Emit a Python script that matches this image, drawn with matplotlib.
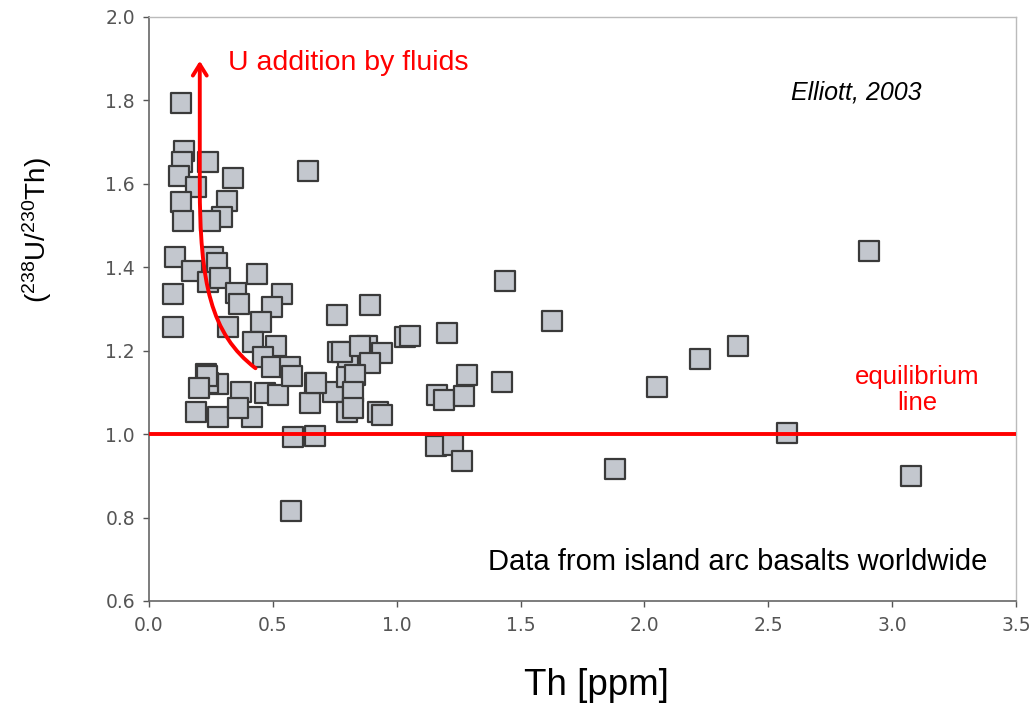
import matplotlib
matplotlib.use("Agg")
import matplotlib.pyplot as plt
from matplotlib.path import Path
from matplotlib.patches import FancyArrowPatch

th_ppm = [0.13, 0.14, 0.133, 0.24, 0.12, 0.34, 0.19, 0.315, 0.13, 0.295, 0.137, 0.246,
          0.642, 0.105, 0.26, 0.273, 0.172, 0.238, 0.286, 0.437, 0.096, 0.351, 0.365,
          0.538, 0.495, 0.758, 0.32, 0.096, 0.452, 0.421, 0.513, 0.461, 0.495, 0.569,
          0.764, 0.805, 0.23, 0.28, 0.37, 0.24, 0.468, 0.52, 0.576, 0.67, 0.65, 0.744,
          0.798, 0.798, 0.19, 0.28, 0.414, 0.36, 0.583, 0.67, 0.892, 0.778, 0.879,
          0.852, 0.939, 0.892, 1.033, 1.054, 1.202, 1.282, 1.161, 1.192, 1.272, 0.832,
          0.825, 0.825, 0.925, 0.939, 0.674, 1.424, 1.437, 1.625, 1.158, 1.227, 1.262,
          1.881, 2.051, 2.224, 2.378, 2.576, 2.905, 3.076, 0.573, 0.235, 0.2]
u_th = [1.794, 1.679, 1.652, 1.652, 1.619, 1.614, 1.593, 1.559, 1.556, 1.521, 1.511, 1.511,
        1.631, 1.424, 1.425, 1.411, 1.392, 1.365, 1.374, 1.384, 1.336, 1.339, 1.312,
        1.337, 1.305, 1.285, 1.256, 1.256, 1.270, 1.222, 1.211, 1.186, 1.162, 1.162,
        1.198, 1.170, 1.144, 1.120, 1.102, 1.122, 1.098, 1.094, 1.139, 1.122, 1.074, 1.102,
        1.138, 1.054, 1.054, 1.042, 1.042, 1.062, 0.993, 0.996, 1.309, 1.198, 1.211,
        1.211, 1.195, 1.170, 1.233, 1.235, 1.243, 1.142, 1.094, 1.083, 1.091, 1.142,
        1.102, 1.062, 1.054, 1.046, 1.122, 1.126, 1.368, 1.272, 0.971, 0.974, 0.936,
        0.917, 1.113, 1.180, 1.211, 1.003, 1.439, 0.899, 0.816, 1.140, 1.110]

x_ticks = [0.0, 0.5, 1.0, 1.5, 2.0, 2.5, 3.0, 3.5]
y_ticks = [0.6, 0.8, 1.0, 1.2, 1.4, 1.6, 1.8, 2.0]
equilibrium = 1.0

plt.rcParams['mathtext.fontset'] = 'custom'
plt.rcParams['mathtext.rm'] = 'Liberation Sans'
plt.rcParams['mathtext.it'] = 'Liberation Sans:italic'

fig = plt.figure(figsize=(10.36, 7.05), dpi=100)
ax = fig.add_axes([149/1036, 1 - 601/705, (1016-149)/1036, (601-17)/705])

ax.scatter(th_ppm, u_th, marker='s', s=15**2, facecolor='#c3c7ce',
           edgecolor='#3a3a3a', linewidths=1.6, zorder=3)

ax.axhline(equilibrium, color='#ff0000', lw=2.8, zorder=4)

ax.set_xlim(0, 3.5)
ax.set_ylim(0.6, 2.0)
ax.set_xticks(x_ticks)
ax.set_yticks(y_ticks)
ax.set_xticklabels([f"{v:.1f}" for v in x_ticks])
ax.set_yticklabels([f"{v:.1f}" for v in y_ticks])
ax.tick_params(axis='both', labelsize=13.5, colors='#555555', length=4, width=1)
ax.tick_params(axis='x', pad=7)
ax.tick_params(axis='y', pad=6)
for s in ['left', 'bottom']:
    ax.spines[s].set_color('#666666')
    ax.spines[s].set_linewidth(1.2)
for s in ['top', 'right']:
    ax.spines[s].set_color('#bbbbbb')
    ax.spines[s].set_linewidth(1.0)

ax.set_xlabel("Th [ppm]", fontsize=26.5, family='Liberation Sans')
ax.xaxis.set_label_coords(0.516, -0.115)
ax.set_ylabel(r"($^{238}$U/$^{230}$Th)", fontsize=20, family='Liberation Sans')
ax.yaxis.set_label_coords(-0.11, 0.635)

verts = [(0.43, 1.158), (0.25, 1.24), (0.205, 1.36), (0.205, 1.6), (0.205, 1.895)]
codes = [Path.MOVETO, Path.CURVE4, Path.CURVE4, Path.CURVE4, Path.LINETO]
arrow = FancyArrowPatch(path=Path(verts, codes), arrowstyle='->,head_length=8,head_width=5',
                        color='#ff0000', lw=2.8, zorder=5)
ax.add_patch(arrow)

ax.text(0.32, 1.89, "U addition by fluids", color='#ff0000', fontsize=20.5,
        va='center', ha='left', family='Liberation Sans')
ax.text(2.854, 1.82, "Elliott, 2003", fontsize=18, style='italic', ha='center',
        va='center', family='Liberation Sans')
ax.text(3.10, 1.106, "equilibrium\nline", color='#ff0000', fontsize=18.5, ha='center',
        va='center', family='Liberation Sans', linespacing=1.1)
ax.text(3.383, 0.693, "Data from island arc basalts worldwide", fontsize=21,
        ha='right', va='center', family='Liberation Sans')

fig.savefig("out.png", dpi=100)
